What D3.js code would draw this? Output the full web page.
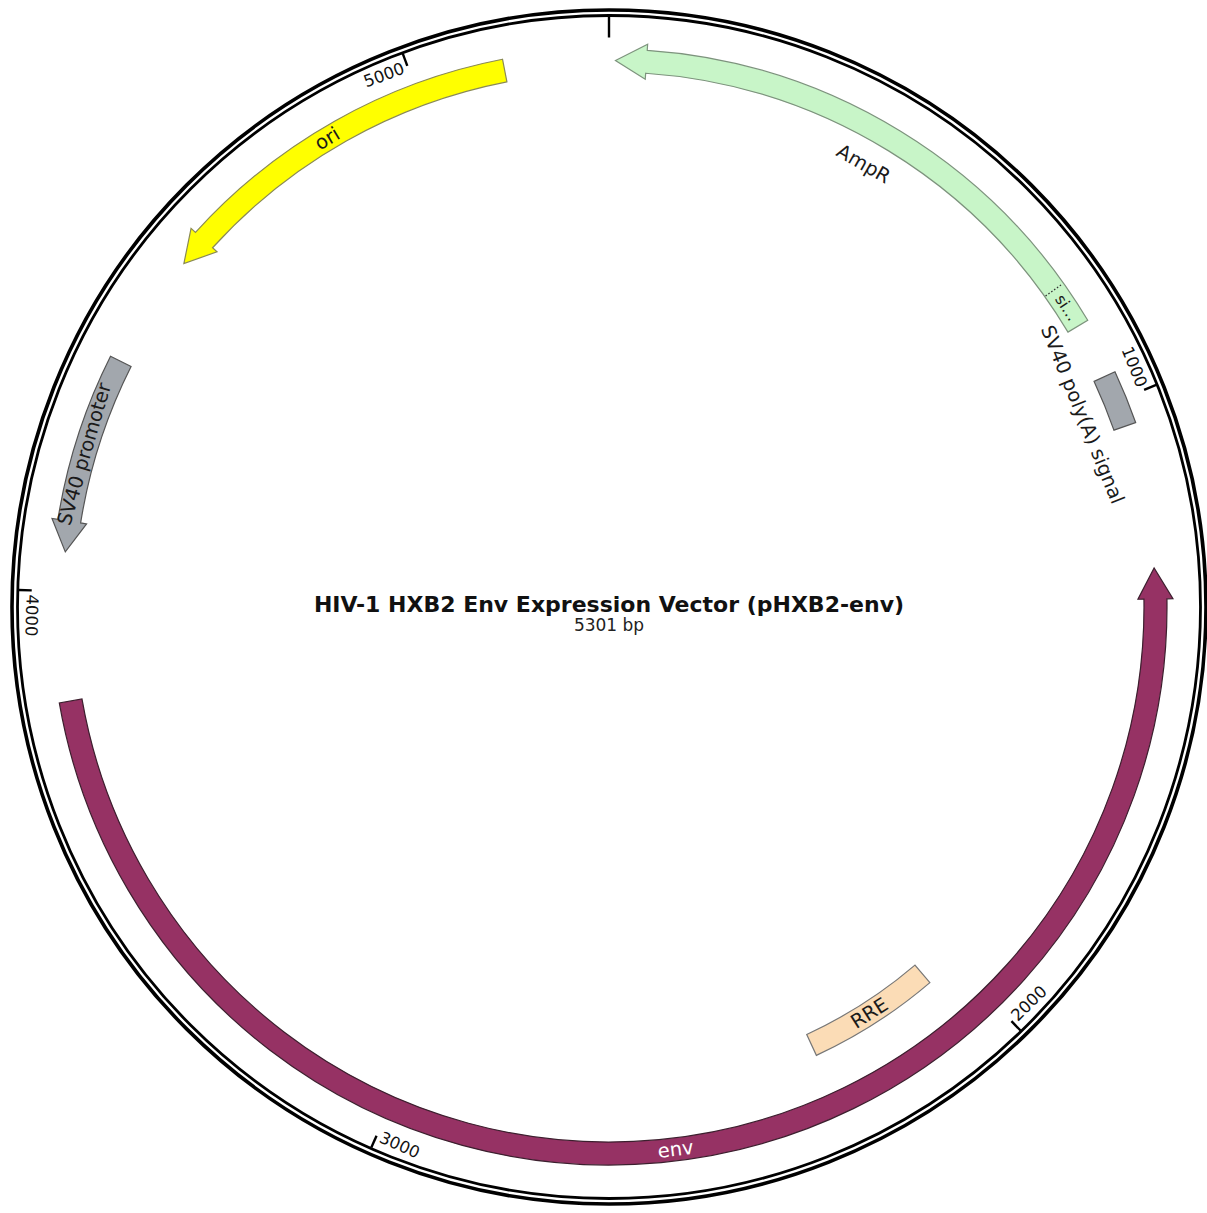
<!DOCTYPE html>
<html lang="en">
<head>
  <meta charset="UTF-8">
  <title>pHXB2-env map</title>
  <script src="https://d3js.org/d3.v7.min.js"></script>
  <style>
    html, body { margin: 0; padding: 0; background: #fff; }
    svg { display: block; font-family: "DejaVu Sans", Verdana, sans-serif; }
    .feat { stroke-width: 1.2; }
    .label { font-size: 19.5px; fill: #1a1a1a; }
    .tick-label { font-size: 16.5px; fill: #111; }
  </style>
</head>
<body>

  <svg id="map"></svg>

  <script>
    const plasmidName = "HIV-1 HXB2 Env Expression Vector (pHXB2-env)";
    const plasmidLength = 5301;

    const featureNames  = ["AmpR", "SV40 poly(A) signal", "env", "RRE", "SV40 promoter", "ori"];
    const featureStarts = [10, 958, 1265, 2054, 4061, 4549];
    const featureEnds   = [870, 1041, 3830, 2285, 4369, 5139];
    const featureStrand = [-1, 0, -1, 0, -1, -1];

    // sub feature drawn inside AmpR
    const subLabels = ["si…"];
    const subStarts = [803];
    const subEnds   = [870];

    const tickValues = [0, 1000, 2000, 3000, 4000, 5000];
    const tickLabels = ["", "1000", "2000", "3000", "4000", "5000"];

    // look of each feature
    const featureStyle = {
      "AmpR":                {fill: "#c8f5c8", stroke: "#7d937d", track: 0, inside: false, text: "#1a1a1a"},
      "SV40 poly(A) signal": {fill: "#a2a7ad", stroke: "#555",    track: 0, inside: false, text: "#1a1a1a"},
      "env":                 {fill: "#963264", stroke: "#3c1f2e", track: 0, inside: true,  text: "#fff"},
      "RRE":                 {fill: "#fbdcb6", stroke: "#777",    track: 1, inside: true,  text: "#1a1a1a"},
      "SV40 promoter":       {fill: "#a2a7ad", stroke: "#555",    track: 0, inside: true,  text: "#1a1a1a"},
      "ori":                 {fill: "#ffff00", stroke: "#8a8a55", track: 0, inside: true,  text: "#1a1a1a"}
    };

    const width = 1207, height = 1213;
    const cx = 609, cy = 607;
    const ringOuter = 597, ringInner = 591.5;
    const tracks = [[535, 558], [471, 494]];
    const headLen = 31, headExtra = 6;
    const outsideLabelR = 511, tickLabelR = 577;

    const svg = d3.select("#map")
      .attr("width", width)
      .attr("height", height);

    const angle = d3.scaleLinear().domain([0, plasmidLength]).range([0, 2 * Math.PI]);

    function polar(r, a) {
      return [cx + r * Math.sin(a), cy - r * Math.cos(a)];
    }
    function flipped(a) {
      const d = ((a * 180 / Math.PI) % 360 + 360) % 360;
      return d > 90 && d < 270;
    }
    function rotDeg(a) {
      const d = a * 180 / Math.PI;
      return flipped(a) ? d - 180 : d;
    }

    // backbone ring
    svg.append("circle").attr("cx", cx).attr("cy", cy).attr("r", ringOuter)
      .attr("fill", "none").attr("stroke", "#000").attr("stroke-width", 3.6);
    svg.append("circle").attr("cx", cx).attr("cy", cy).attr("r", ringInner)
      .attr("fill", "none").attr("stroke", "#000").attr("stroke-width", 2.8);

    // ticks
    const tickG = svg.append("g");
    tickValues.forEach((v, i) => {
      const a = angle(v);
      const len = v === 0 ? 21 : 13;
      const p0 = polar(ringInner - 1, a), p1 = polar(ringInner - 1 - len, a);
      tickG.append("line")
        .attr("x1", p0[0]).attr("y1", p0[1]).attr("x2", p1[0]).attr("y2", p1[1])
        .attr("stroke", "#000").attr("stroke-width", 2.4);
      if (!tickLabels[i]) return;
      const flip = flipped(a - 0.035);
      const pt = polar(tickLabelR, a);
      const rot = a * 180 / Math.PI - (flip ? 180 : 0);
      tickG.append("text")
        .attr("class", "tick-label")
        .attr("transform", `translate(${pt[0]},${pt[1]}) rotate(${rot})`)
        .attr("x", flip ? 4 : -4)
        .attr("text-anchor", flip ? "start" : "end")
        .attr("dominant-baseline", "central")
        .text(tickLabels[i]);
    });

    // arrow shaped feature path
    function arrowPath(start, end, strand, rIn, rOut) {
      const a0 = angle(start), a1 = angle(end);
      const rMid = (rIn + rOut) / 2;
      const ha = headLen / rMid;
      const off = -Math.PI / 2;
      const p = d3.path();
      if (strand < 0) {
        const ab = a0 + ha;
        p.moveTo(...polar(rOut, a1));
        p.arc(cx, cy, rOut, a1 + off, ab + off, true);
        p.lineTo(...polar(rOut + headExtra, ab));
        p.lineTo(...polar(rMid, a0));
        p.lineTo(...polar(rIn - headExtra, ab));
        p.lineTo(...polar(rIn, ab));
        p.arc(cx, cy, rIn, ab + off, a1 + off, false);
      } else {
        const ab = a1 - ha;
        p.moveTo(...polar(rOut, a0));
        p.arc(cx, cy, rOut, a0 + off, ab + off, false);
        p.lineTo(...polar(rOut + headExtra, ab));
        p.lineTo(...polar(rMid, a1));
        p.lineTo(...polar(rIn - headExtra, ab));
        p.lineTo(...polar(rIn, ab));
        p.arc(cx, cy, rIn, ab + off, a0 + off, true);
      }
      p.closePath();
      return p.toString();
    }

    const boxArc = d3.arc();

    const featG = svg.append("g");
    featureNames.forEach((name, i) => {
      const st = featureStyle[name];
      const [rIn, rOut] = tracks[st.track];
      const d = featureStrand[i] === 0
        ? boxArc({innerRadius: rIn, outerRadius: rOut,
                  startAngle: angle(featureStarts[i]), endAngle: angle(featureEnds[i])})
        : arrowPath(featureStarts[i], featureEnds[i], featureStrand[i], rIn, rOut);
      featG.append("path")
        .attr("class", "feat")
        .attr("transform", featureStrand[i] === 0 ? `translate(${cx},${cy})` : null)
        .attr("d", d)
        .attr("fill", st.fill)
        .attr("stroke", st.stroke);
    });

    // sub features (dotted boundary + short label)
    subLabels.forEach((lab, i) => {
      const [rIn, rOut] = tracks[0];
      const a = angle(subStarts[i]);
      const p0 = polar(rIn + 1, a), p1 = polar(rOut - 1, a);
      featG.append("line")
        .attr("x1", p0[0]).attr("y1", p0[1]).attr("x2", p1[0]).attr("y2", p1[1])
        .attr("stroke", "#333").attr("stroke-width", 1.3)
        .attr("stroke-dasharray", "1.5,2");
      const am = angle((subStarts[i] + subEnds[i]) / 2);
      const pt = polar((rIn + rOut) / 2, am);
      featG.append("text")
        .attr("transform", `translate(${pt[0]},${pt[1]}) rotate(${rotDeg(am)})`)
        .attr("text-anchor", "middle")
        .attr("dominant-baseline", "central")
        .attr("font-size", 15.5)
        .attr("fill", "#1a1a1a")
        .text(lab);
    });

    // feature labels
    featureNames.forEach((name, i) => {
      const st = featureStyle[name];
      const [rIn, rOut] = tracks[st.track];
      const am = angle((featureStarts[i] + featureEnds[i]) / 2);
      const r = st.inside ? (rIn + rOut) / 2 : outsideLabelR;
      const pt = polar(r, am);
      featG.append("text")
        .attr("class", "label")
        .attr("transform", `translate(${pt[0]},${pt[1]}) rotate(${rotDeg(am)})`)
        .attr("text-anchor", "middle")
        .attr("dominant-baseline", "central")
        .style("fill", st.text)
        .text(name);
    });

    // title in the middle
    svg.append("text")
      .attr("x", cx).attr("y", 612)
      .attr("text-anchor", "middle")
      .attr("font-size", 22).attr("font-weight", "bold").attr("fill", "#111")
      .text(plasmidName);
    svg.append("text")
      .attr("x", cx).attr("y", 631)
      .attr("text-anchor", "middle")
      .attr("font-size", 17).attr("fill", "#222")
      .text(plasmidLength + " bp");
  </script>
</body>
</html>
